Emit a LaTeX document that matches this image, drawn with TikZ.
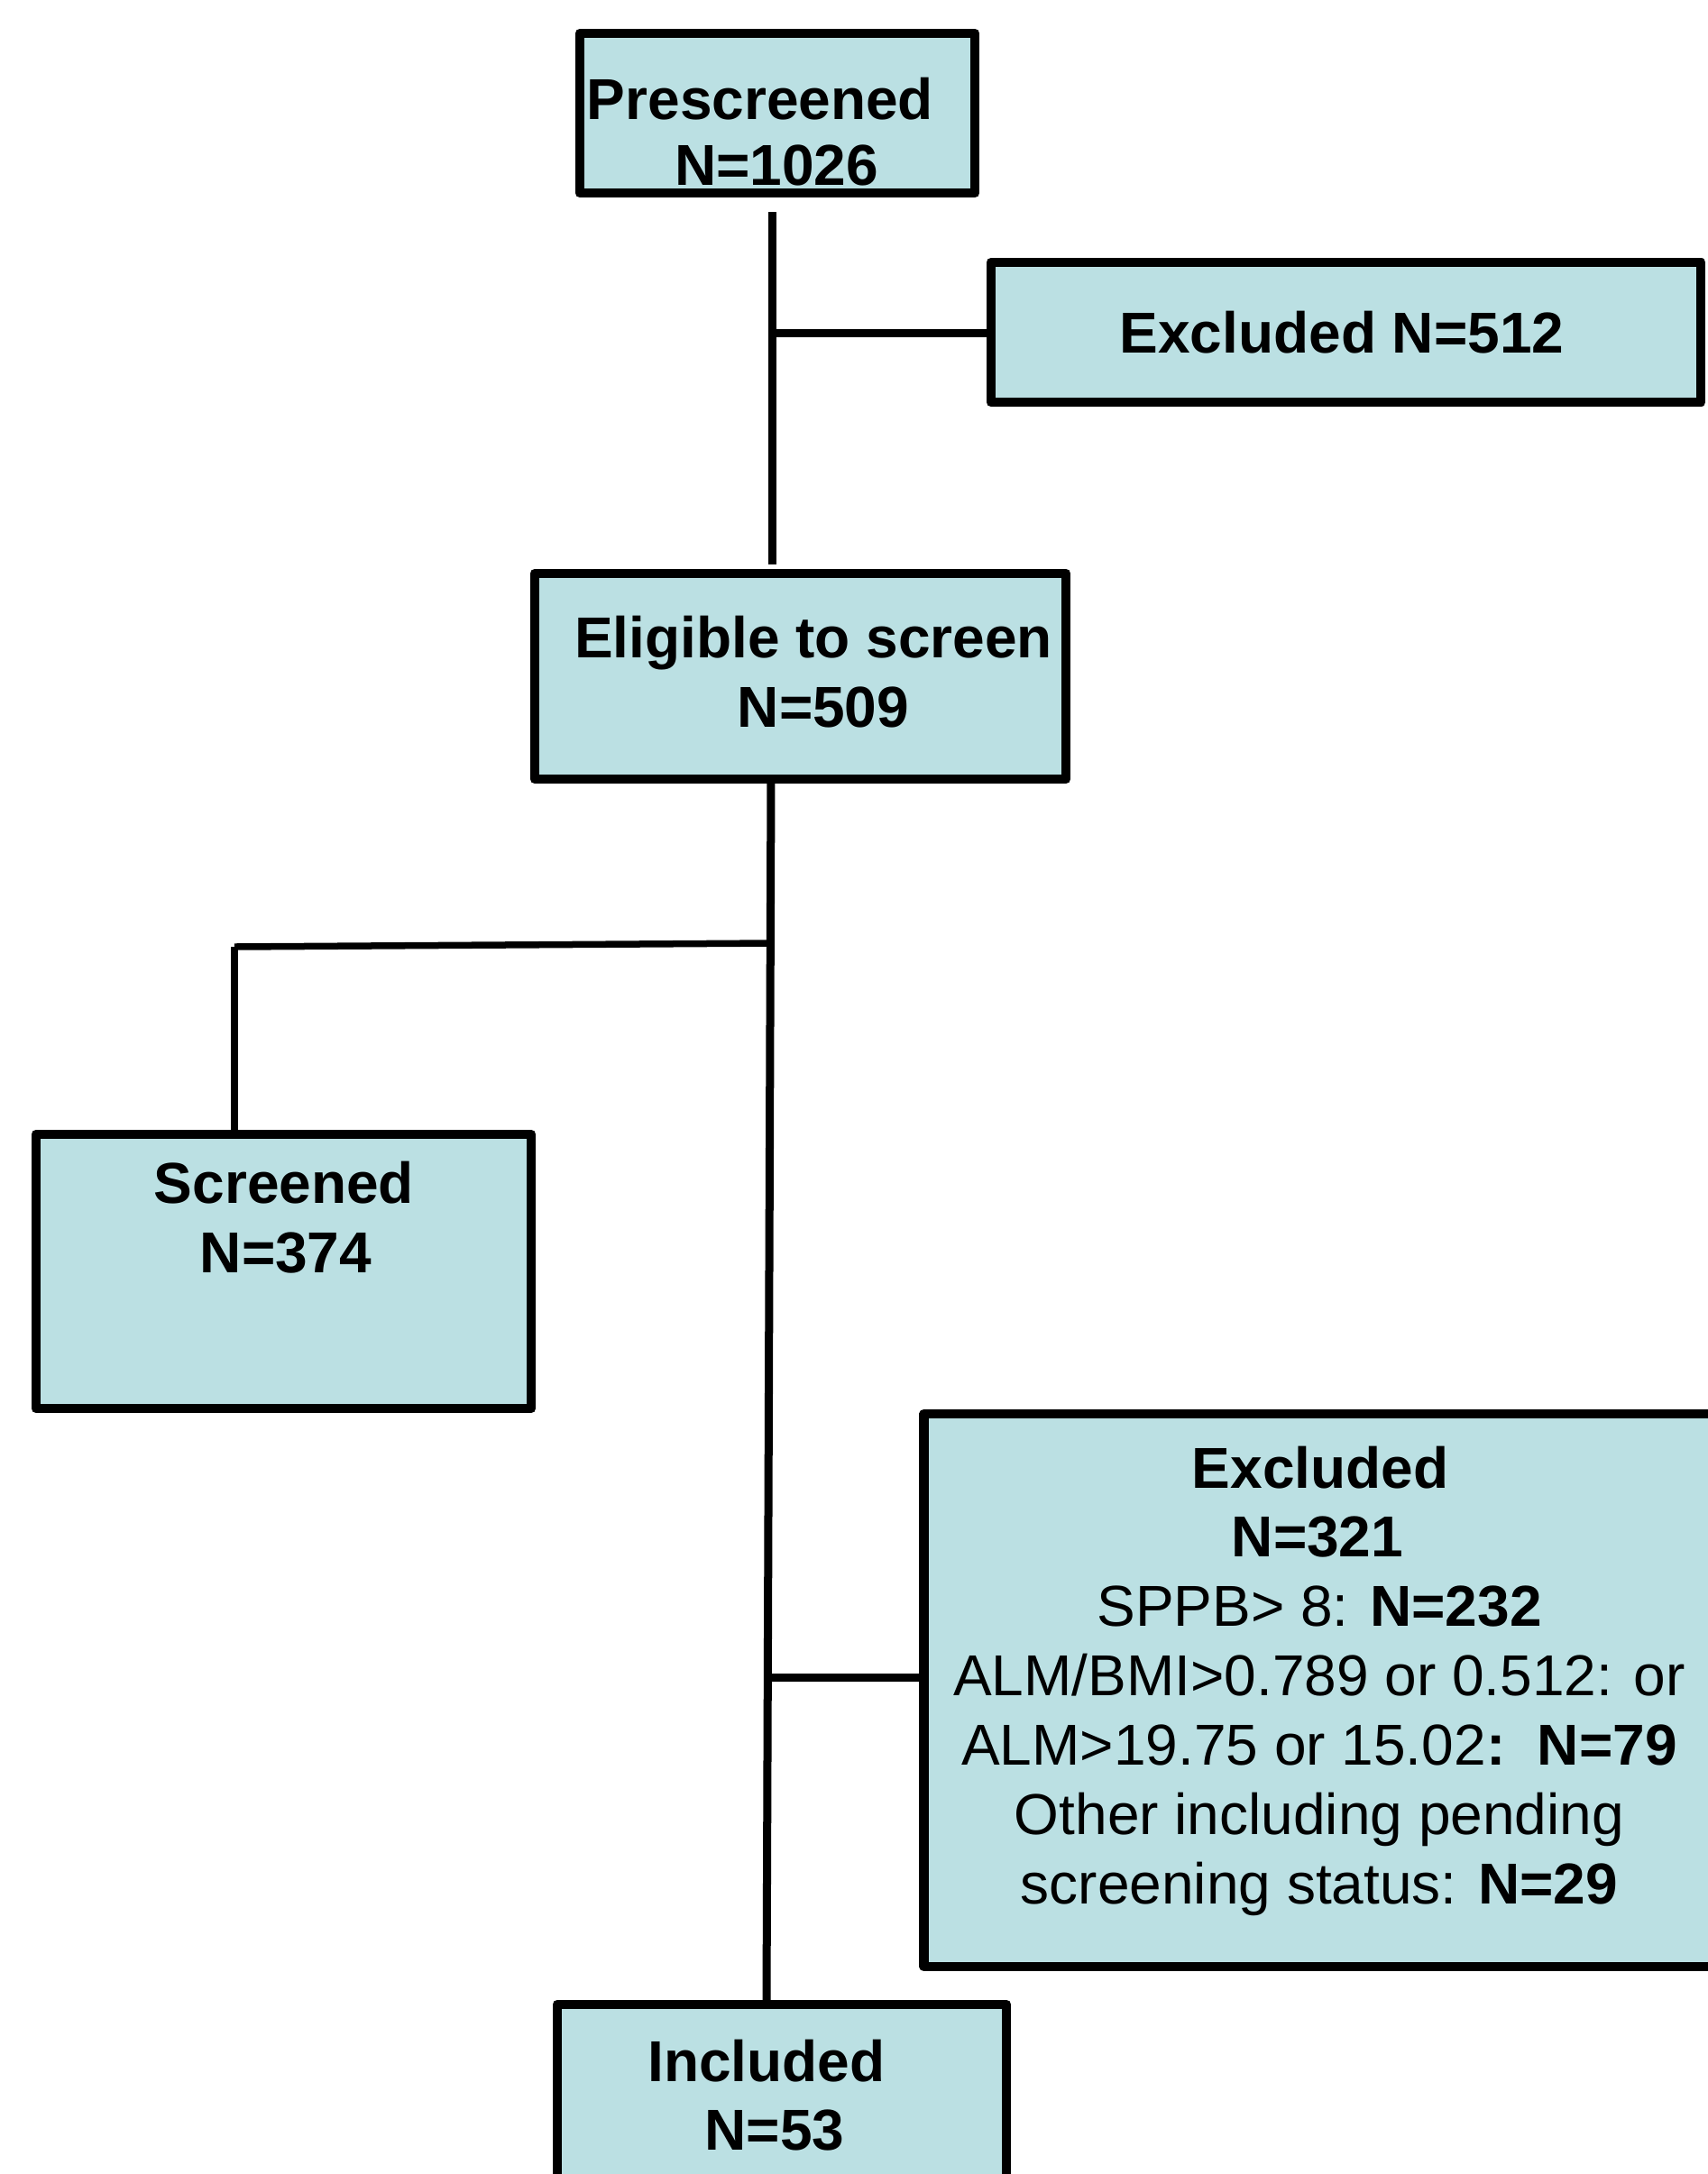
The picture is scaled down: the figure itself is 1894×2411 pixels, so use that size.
\documentclass[tikz,border=0pt]{standalone}
\usepackage{fontspec}
\setmainfont{Liberation Sans}
\definecolor{boxfill}{RGB}{187,224,227}
\begin{document}
\begin{tikzpicture}[x=0.01cm,y=-0.01cm,
  box/.style={draw=black, fill=boxfill, line width=0.105cm, line join=round, inner sep=0pt, outer sep=0pt},
  conn/.style={draw=black, line width=0.09cm},
  thin conn/.style={draw=black, line width=0.075cm},
  txt/.style={anchor=base, inner sep=0pt, font=\fontsize{18.2}{21.9}\selectfont},
  btxt/.style={txt, font=\fontsize{18.2}{21.9}\selectfont\bfseries}]
\clip (0,0) rectangle (1894,2411);
\fill[white] (0,0) rectangle (1894,2411);

% boxes
\node[box, minimum width=4.38cm, minimum height=1.77cm] (pre) at (862,125.5) {};
\node[box, minimum width=7.87cm, minimum height=1.55cm] (ex1) at (1492.5,368.5) {};
\node[box, minimum width=5.89cm, minimum height=2.28cm] (elig) at (887.5,750) {};
\node[box, minimum width=5.49cm, minimum height=3.04cm] (scr) at (314.5,1410) {};
\node[box, minimum width=9.25cm, minimum height=6.13cm] (ex2) at (1487.5,1874.5) {};
\node[box, minimum width=4.98cm, minimum height=2.57cm] (inc) at (867,2351.5) {};

% connectors
\coordinate (t1) at (856,235);
\coordinate (t2) at (856,626);
\coordinate (j1) at (856,369);
\draw[conn] (t1) -- (t2);
\draw[conn] (j1) -- (j1 -| ex1.west);

\coordinate (b1) at (855,864);
\coordinate (b2) at (850,2223);
\draw[conn] (b1) -- (b2);

\coordinate (l1) at (855,1046);
\coordinate (l2) at (260,1050);
\draw[thin conn] (l1) -- (l2);
\draw[thin conn] (l2) -- (l2 |- scr.north);

\coordinate (r1) at (851,1860);
\draw[conn] (r1) -- (r1 -| ex2.west);

% texts
\node[btxt] (pre-a) at (843,132) {Prescreened};
\node[btxt] (pre-b) at (861,205) {N=1026};
\node[btxt] (ex1-a) at (1488,391) {Excluded N=512};
\node[btxt] (elig-a) at (902,729) {Eligible to screen};
\node[btxt] (elig-b) at (913,806) {N=509};
\node[btxt] (scr-a) at (315,1334) {Screened};
\node[btxt] (scr-b) at (317,1411) {N=374};
\node[btxt] (ex2-a) at (1464,1650) {Excluded};
\node[btxt] (ex2-b) at (1461,1726) {N=321};
\node[txt] (ex2-c) at (1463,1803) {SPPB> 8: \textbf{N=232}};
\node[txt] (ex2-d) at (1463,1880) {ALM/BMI>0.789 or 0.512: or};
\node[txt] (ex2-e) at (1463,1957) {ALM>19.75 or 15.02\textbf{:}\ \ \textbf{N=79}};
\node[txt] (ex2-f) at (1463,2034) {Other including pending};
\node[txt] (ex2-g) at (1463,2111) {screening status: \textbf{N=29}};
\node[btxt] (inc-a) at (850,2308) {Included};
\node[btxt] (inc-b) at (859,2384) {N=53};

% bottom border of the top box drawn over its text, as in the reference
\draw[draw=black, line width=0.105cm] (pre.south west) -- (pre.south east);
\end{tikzpicture}
\end{document}
